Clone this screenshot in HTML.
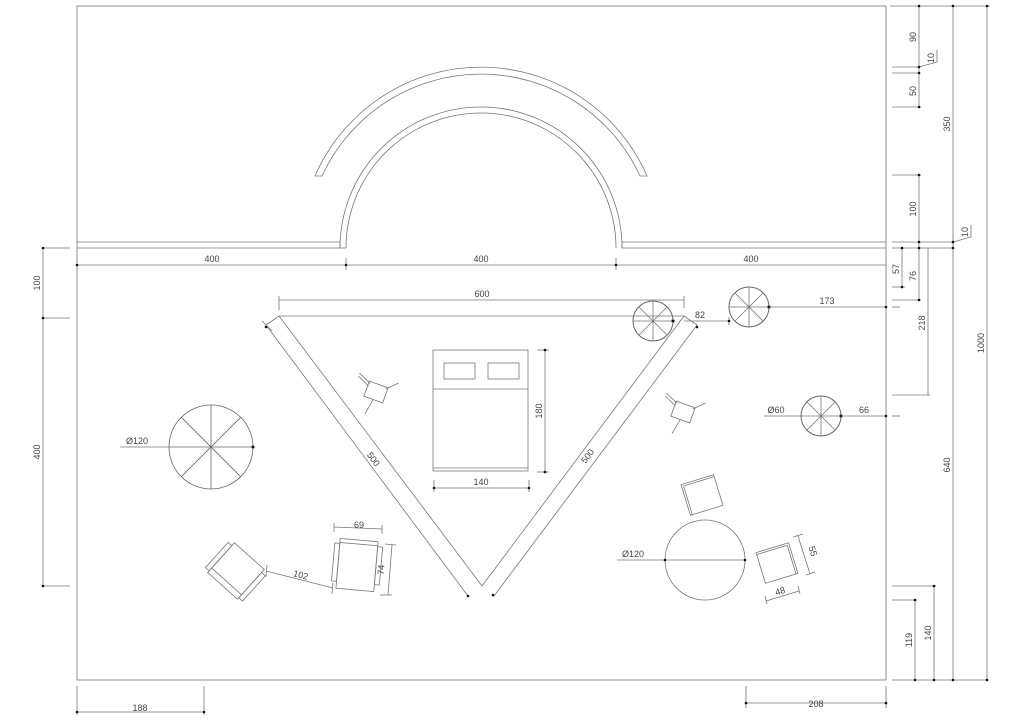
<!DOCTYPE html>
<html><head><meta charset="utf-8"><style>
html,body{margin:0;padding:0;background:#fff}
svg{display:block}
text{font-family:"Liberation Sans",sans-serif;font-size:9px;fill:#444}
</style></head><body>
<svg width="1024" height="724" viewBox="0 0 1024 724" xmlns="http://www.w3.org/2000/svg">
<defs>
<g id="sp"><circle r="20" fill="none" stroke="#666" stroke-width="1"/><line x1="-20" y1="0" x2="20" y2="0"/><line x1="0" y1="-20" x2="0" y2="20"/><line x1="-14.1" y1="-14.1" x2="14.1" y2="14.1"/><line x1="-14.1" y1="14.1" x2="14.1" y2="-14.1"/><circle cx="20" cy="0" r="1.5" fill="#000"/></g>
</defs>
<g fill="none" stroke="#777" stroke-width="0.8">
<rect x="77" y="6" width="809" height="674"/>
<polyline points="77,242 340,242 340,248 77,248"/>
<line x1="346" y1="248" x2="340" y2="248"/>
<polyline points="886,242 622,242 622,248 886,248"/>
<path d="M340,248 A141,141 0 0 1 622,248"/>
<path d="M346,248 A135,135 0 0 1 616,248"/>
<path d="M315,176 A181,181 0 0 1 647,176 L640,176 A175,175 0 0 0 322,176 Z"/>
<line x1="77" y1="265" x2="886" y2="265"/>
<line x1="346" y1="258" x2="346" y2="270"/><line x1="616" y1="258" x2="616" y2="270"/>
<line x1="279" y1="316" x2="684" y2="316"/>
<line x1="279" y1="316" x2="482" y2="586"/>
<line x1="482" y1="586" x2="684" y2="316"/>
<line x1="266" y1="325" x2="468" y2="596"/>
<line x1="494" y1="596" x2="697" y2="325"/>
<line x1="279" y1="316" x2="266" y2="325"/>
<line x1="684" y1="316" x2="697" y2="325"/>
<line x1="279" y1="300" x2="684" y2="300"/><line x1="279" y1="296" x2="279" y2="310"/><line x1="684" y1="296" x2="684" y2="308"/>
<line x1="262" y1="321" x2="272" y2="331"/>
<rect x="433" y="350" width="95" height="121"/>
<line x1="433" y1="389" x2="528" y2="389"/>
<line x1="433" y1="468" x2="528" y2="468"/>
<rect x="444" y="363" width="31" height="16"/><rect x="488" y="363" width="31" height="16"/>
<line x1="545" y1="350" x2="545" y2="472"/><line x1="537" y1="350" x2="549" y2="350"/><line x1="537" y1="472" x2="549" y2="472"/>
<line x1="434" y1="488" x2="529" y2="488"/><line x1="434" y1="480" x2="434" y2="492"/><line x1="529" y1="480" x2="529" y2="492"/>
<g transform="translate(376,392) rotate(20)"><rect x="-10" y="-8" width="20" height="16"/><line x1="-8" y1="-6" x2="-22" y2="-12"/><line x1="8" y1="-6" x2="18" y2="-16"/><line x1="0" y1="8" x2="-3" y2="24"/><line x1="-9" y1="-3" x2="-22" y2="-9"/></g>
<g transform="translate(683,412) rotate(20)"><rect x="-10" y="-8" width="20" height="16"/><line x1="-8" y1="-6" x2="-22" y2="-12"/><line x1="8" y1="-6" x2="18" y2="-16"/><line x1="0" y1="8" x2="-3" y2="24"/><line x1="-9" y1="-3" x2="-22" y2="-9"/></g>
<g transform="translate(211,447)" stroke="#666">
<circle r="42"/><line x1="-42" y1="0" x2="42" y2="0"/><line x1="0" y1="-42" x2="0" y2="42"/><line x1="-29.7" y1="-29.7" x2="29.7" y2="29.7"/><line x1="-29.7" y1="29.7" x2="29.7" y2="-29.7"/>
</g>
<line x1="120" y1="447" x2="169" y2="447"/>
<g transform="translate(653,321)"><use href="#sp"/></g>
<g transform="translate(749,307)"><use href="#sp"/></g>
<g transform="translate(821,416)"><use href="#sp"/></g>
<line x1="684" y1="321" x2="729" y2="321"/><line x1="729" y1="317" x2="729" y2="325"/>
<line x1="769" y1="307" x2="886" y2="307"/>
<line x1="764" y1="416" x2="801" y2="416"/><line x1="841" y1="416" x2="886" y2="416"/>
<circle cx="705" cy="560" r="40"/>
<line x1="617" y1="560" x2="745" y2="560"/>
<g transform="translate(702,495) rotate(-17)"><rect x="-17" y="-16" width="34" height="32"/><polyline points="-15,16 -15,-14 17,-14"/></g>
<g transform="translate(777,563) rotate(-17)"><rect x="-17" y="-16" width="34" height="32"/><polyline points="-17,-14 15,-14 15,16"/></g>
<line x1="798" y1="536" x2="810" y2="574"/><line x1="793" y1="537" x2="803" y2="534"/><line x1="806" y1="575" x2="815" y2="572"/>
<line x1="766" y1="601" x2="799" y2="591"/><line x1="765" y1="596" x2="767" y2="604"/><line x1="798" y1="586" x2="800" y2="594"/>
<g transform="translate(236,571) rotate(42)"><rect x="-20" y="-20" width="40" height="40"/><rect x="-25" y="-16" width="5" height="34"/><rect x="20" y="-16" width="5" height="34"/><line x1="-20" y1="14" x2="20" y2="14"/></g>
<g transform="translate(357,565) rotate(5)"><rect x="-19" y="-25" width="38" height="50"/><rect x="-24" y="-20" width="5" height="38"/><rect x="19" y="-20" width="5" height="38"/><line x1="-19" y1="-21" x2="19" y2="-21"/></g>
<line x1="334" y1="527" x2="382" y2="529"/><line x1="334" y1="523" x2="334" y2="532"/><line x1="382" y1="525" x2="382" y2="534"/>
<line x1="392" y1="545" x2="388" y2="595"/><line x1="385" y1="544" x2="396" y2="545"/><line x1="380" y1="595" x2="392" y2="595"/>
<line x1="266" y1="571" x2="333" y2="588"/><line x1="267" y1="565" x2="266" y2="577"/><line x1="333" y1="583" x2="332" y2="594"/>
<line x1="43" y1="248" x2="43" y2="586"/>
<line x1="43" y1="248" x2="70" y2="248"/><line x1="43" y1="318" x2="70" y2="318"/><line x1="43" y1="586" x2="70" y2="586"/>
<line x1="77" y1="686" x2="77" y2="715"/><line x1="204" y1="686" x2="204" y2="715"/><line x1="77" y1="712" x2="204" y2="712"/>
<line x1="746" y1="686" x2="746" y2="708"/><line x1="886" y1="686" x2="886" y2="708"/><line x1="746" y1="703" x2="886" y2="703"/>
<line x1="919" y1="6" x2="919" y2="107"/><line x1="919" y1="175" x2="919" y2="248"/>
<line x1="953" y1="6" x2="953" y2="680"/><line x1="987" y1="6" x2="987" y2="680"/>
<line x1="890" y1="6" x2="990" y2="6"/>
<line x1="892" y1="67" x2="919" y2="67"/><line x1="892" y1="73" x2="919" y2="73"/><line x1="892" y1="107" x2="921" y2="107"/><line x1="892" y1="175" x2="921" y2="175"/>
<line x1="892" y1="242" x2="953" y2="242"/><line x1="892" y1="248" x2="953" y2="248"/>
<polyline points="919,67 937,62 937,50"/><polyline points="953,242 971,237 971,225"/>
<line x1="902" y1="248" x2="902" y2="287"/><line x1="892" y1="287" x2="905" y2="287"/>
<line x1="919" y1="248" x2="919" y2="300"/><line x1="892" y1="300" x2="921" y2="300"/>
<line x1="928" y1="248" x2="928" y2="395"/><line x1="892" y1="395" x2="930" y2="395"/>
<line x1="892" y1="307" x2="900" y2="307"/><line x1="892" y1="416" x2="900" y2="416"/>
<line x1="915" y1="600" x2="915" y2="680"/><line x1="892" y1="600" x2="917" y2="600"/>
<line x1="934" y1="586" x2="934" y2="680"/><line x1="892" y1="586" x2="936" y2="586"/>
<line x1="892" y1="680" x2="987" y2="680"/>
</g>
<g fill="#111">
<circle cx="253" cy="447" r="1.5"/>
<circle cx="919" cy="6" r="1.3"/><circle cx="919" cy="67" r="1.3"/><circle cx="919" cy="73" r="1.3"/><circle cx="919" cy="107" r="1.3"/><circle cx="919" cy="175" r="1.3"/><circle cx="919" cy="242" r="1.3"/><circle cx="953" cy="6" r="1.3"/><circle cx="987" cy="6" r="1.3"/><circle cx="953" cy="242" r="1.3"/><circle cx="953" cy="248" r="1.3"/><circle cx="902" cy="248" r="1.3"/><circle cx="919" cy="248" r="1.3"/><circle cx="902" cy="287" r="1.3"/><circle cx="919" cy="300" r="1.3"/>
<circle cx="915" cy="680" r="1.3"/><circle cx="934" cy="680" r="1.3"/><circle cx="953" cy="680" r="1.3"/><circle cx="987" cy="680" r="1.3"/><circle cx="915" cy="600" r="1.3"/><circle cx="934" cy="586" r="1.3"/>
<circle cx="43" cy="248" r="1.3"/><circle cx="43" cy="318" r="1.3"/><circle cx="43" cy="586" r="1.3"/>
<circle cx="346" cy="265" r="1.3"/><circle cx="616" cy="265" r="1.3"/><circle cx="77" cy="265" r="1.3"/>
<circle cx="886" cy="307" r="1.3"/><circle cx="886" cy="416" r="1.3"/><circle cx="729" cy="321" r="1.3"/>
<circle cx="266" cy="327" r="1.3"/><circle cx="468" cy="596" r="1.3"/><circle cx="493" cy="595" r="1.3"/><circle cx="697" cy="327" r="1.3"/>
<circle cx="545" cy="350" r="1.3"/><circle cx="545" cy="472" r="1.3"/><circle cx="434" cy="488" r="1.3"/><circle cx="529" cy="488" r="1.3"/>
<circle cx="665" cy="560" r="1.3"/><circle cx="745" cy="560" r="1.3"/>
<circle cx="77" cy="712" r="1.3"/><circle cx="204" cy="712" r="1.3"/><circle cx="746" cy="703" r="1.3"/><circle cx="886" cy="703" r="1.3"/>
</g>
<text x="212" y="262" text-anchor="middle">400</text>
<text x="481" y="262" text-anchor="middle">400</text>
<text x="751" y="262" text-anchor="middle">400</text>
<text x="482" y="297" text-anchor="middle">600</text>
<text x="700" y="318" text-anchor="middle">82</text>
<text x="827" y="304" text-anchor="middle">173</text>
<text x="776" y="413" text-anchor="middle">Ø60</text>
<text x="864" y="413" text-anchor="middle">66</text>
<text x="137" y="444" text-anchor="middle">Ø120</text>
<text x="633" y="557" text-anchor="middle">Ø120</text>
<text x="481" y="485" text-anchor="middle">140</text>
<text x="542" y="411" text-anchor="middle" transform="rotate(-90 542 411)">180</text>
<text x="371" y="461" text-anchor="middle" transform="rotate(53 371 461)">500</text>
<text x="590" y="458" text-anchor="middle" transform="rotate(-53 590 458)">500</text>
<text x="359" y="528" text-anchor="middle">69</text>
<text x="384" y="570" text-anchor="middle" transform="rotate(-85 384 570)">74</text>
<text x="300" y="578" text-anchor="middle" transform="rotate(14 300 578)">102</text>
<text x="810" y="552" text-anchor="middle" transform="rotate(73 810 552)">55</text>
<text x="781" y="594" text-anchor="middle" transform="rotate(-17 781 594)">48</text>
<text x="140" y="711" text-anchor="middle">188</text>
<text x="816" y="707" text-anchor="middle">208</text>
<text x="40" y="283" text-anchor="middle" transform="rotate(-90 40 283)">100</text>
<text x="40" y="452" text-anchor="middle" transform="rotate(-90 40 452)">400</text>
<text x="916" y="37" text-anchor="middle" transform="rotate(-90 916 37)">90</text>
<text x="934" y="58" text-anchor="middle" transform="rotate(-90 934 58)">10</text>
<text x="916" y="91" text-anchor="middle" transform="rotate(-90 916 91)">50</text>
<text x="950" y="124" text-anchor="middle" transform="rotate(-90 950 124)">350</text>
<text x="916" y="209" text-anchor="middle" transform="rotate(-90 916 209)">100</text>
<text x="968" y="232" text-anchor="middle" transform="rotate(-90 968 232)">10</text>
<text x="899" y="269" text-anchor="middle" transform="rotate(-90 899 269)">57</text>
<text x="916" y="276" text-anchor="middle" transform="rotate(-90 916 276)">76</text>
<text x="925" y="323" text-anchor="middle" transform="rotate(-90 925 323)">218</text>
<text x="950" y="465" text-anchor="middle" transform="rotate(-90 950 465)">640</text>
<text x="984" y="343" text-anchor="middle" transform="rotate(-90 984 343)">1000</text>
<text x="912" y="640" text-anchor="middle" transform="rotate(-90 912 640)">119</text>
<text x="931" y="633" text-anchor="middle" transform="rotate(-90 931 633)">140</text>
</svg>
</body></html>
